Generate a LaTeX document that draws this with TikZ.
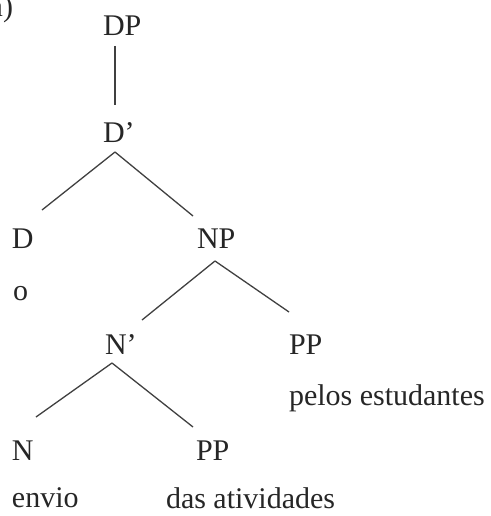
\documentclass[tikz,border=0pt]{standalone}
\usepackage{fontspec}
\setmainfont{Liberation Serif}
\begin{document}
\begin{tikzpicture}[x=1pt,y=-1pt,
  lbl/.style={inner sep=0pt,outer sep=0pt,anchor=base west,font=\fontsize{30}{36}\selectfont,text=black!85},
  edge/.style={draw=black!75,line width=1.3pt}]
\useasboundingbox (0,0) rectangle (490,516);
% labels
\node[lbl,anchor=base east] (tag) at (13,17) {a)};
\node[lbl] (dp) at (103,36) {DP};
\node[lbl] (dbar) at (103,142) {D’};
\node[lbl] (d) at (12,248) {D};
\node[lbl] (np) at (197,248) {NP};
\node[lbl] (o) at (13,300) {o};
\node[lbl] (nbar) at (105,354) {N’};
\node[lbl] (pp1) at (289,354) {PP};
\node[lbl] (pelos) at (289,405) {pelos estudantes};
\node[lbl] (n) at (12,460) {N};
\node[lbl] (pp2) at (196,460) {PP};
\node[lbl] (envio) at (12,507) {envio};
\node[lbl] (das) at (166,508) {das atividades};
% connector end points
\coordinate (dp-b) at (115,46);
\coordinate (dbar-t) at (115,105);
\coordinate (dbar-b) at (115,152);
\coordinate (d-t) at (42,210);
\coordinate (np-t) at (193,216);
\coordinate (np-b) at (215,261);
\coordinate (nbar-t) at (142,320);
\coordinate (pp1-t) at (289,312);
\coordinate (nbar-b) at (112,363);
\coordinate (n-t) at (36,417);
\coordinate (pp2-t) at (193,427);
% connectors
\draw[edge] (dp-b) -- (dbar-t);
\draw[edge] (dbar-b) -- (d-t);
\draw[edge] (dbar-b) -- (np-t);
\draw[edge] (np-b) -- (nbar-t);
\draw[edge] (np-b) -- (pp1-t);
\draw[edge] (nbar-b) -- (n-t);
\draw[edge] (nbar-b) -- (pp2-t);
\end{tikzpicture}
\end{document}
